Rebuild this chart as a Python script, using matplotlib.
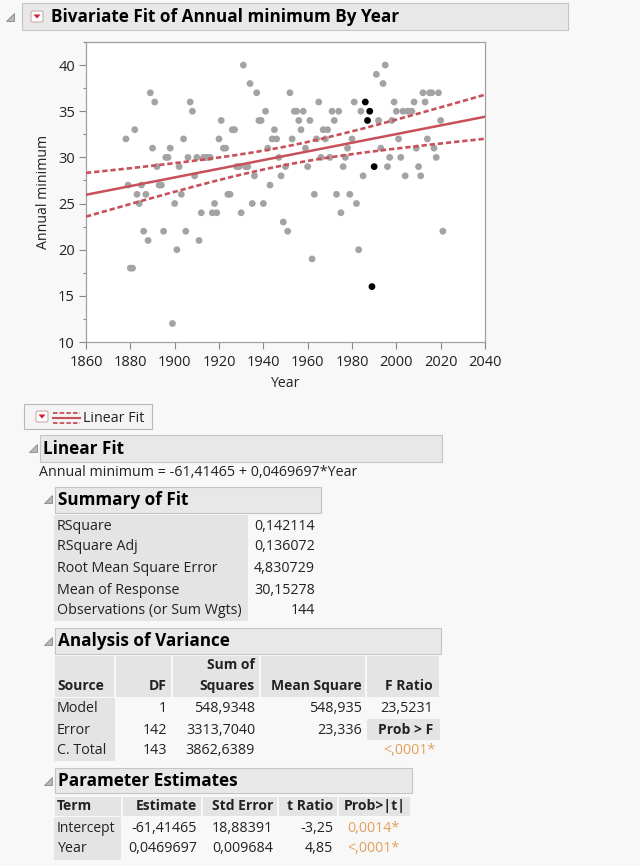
import matplotlib.patches as mpatches
import matplotlib.pyplot as plt
import numpy as np

plt.rcParams["font.family"] = ["Open Sans", "DejaVu Sans"]

# Data (one value per year)
years = list(range(1878, 2022))
annual_min = [
    32, 27, 18, 18, 33, 26, 25, 27, 22, 26,
    21, 37, 31, 36, 29, 27, 27, 22, 30, 30,
    31, 12, 25, 20, 29, 26, 32, 22, 30, 36,
    35, 28, 30, 21, 24, 30, 30, 30, 30, 24,
    25, 24, 32, 34, 31, 31, 26, 26, 33, 33,
    29, 29, 24, 40, 29, 29, 38, 25, 28, 37,
    34, 34, 25, 35, 31, 27, 32, 33, 32, 30,
    28, 23, 29, 22, 37, 32, 35, 35, 34, 33,
    35, 31, 29, 34, 19, 26, 32, 36, 30, 33,
    32, 33, 30, 35, 34, 26, 35, 24, 29, 30,
    31, 26, 32, 36, 25, 20, 35, 28, 36, 34,
    35, 16, 29, 39, 34, 31, 38, 40, 29, 30,
    34, 36, 35, 32, 30, 35, 28, 35, 35, 35,
    36, 31, 29, 28, 37, 36, 32, 37, 37, 31,
    30, 37, 34, 22,
]
selected_years = [1986, 1987, 1988, 1989, 1990]

F_CRIT = 3.06  # F(0.95; 2, 142), JMP fit confidence curves

equation = "Annual minimum = -61,41465 + 0,0469697*Year"
summary_labels = ["RSquare", "RSquare Adj", "Root Mean Square Error",
                  "Mean of Response", "Observations (or Sum Wgts)"]
summary_values = ["0,142114", "0,136072", "4,830729", "30,15278", "144"]

anova_sources = ["Model", "Error", "C. Total"]
anova_df = ["1", "142", "143"]
anova_ss = ["548,9348", "3313,7040", "3862,6389"]
anova_ms = ["548,935", "23,336", ""]
anova_f = ["23,5231", "", ""]
anova_prob = "<,0001*"

param_terms = ["Intercept", "Year"]
param_est = ["-61,41465", "0,0469697"]
param_se = ["18,88391", "0,009684"]
param_t = ["-3,25", "4,85"]
param_p = ["0,0014*", "<,0001*"]

W, H = 640, 866
RED = "#c8505a"
HDR = "#e8e8e8"
CELL = "#e4e4e4"
ORANGE = "#e3a05c"
TXT = "#222222"

fig = plt.figure(figsize=(W / 100, H / 100), dpi=100)
fig.patch.set_facecolor("#f8f8f8")

bg = fig.add_axes([0, 0, 1, 1])
bg.set_xlim(0, W)
bg.set_ylim(H, 0)
bg.axis("off")


def box(x0, y0, x1, y1, fc, ec="none", lw=0.8):
    bg.add_patch(mpatches.Rectangle((x0, y0), x1 - x0, y1 - y0,
                                    facecolor=fc, edgecolor=ec, linewidth=lw))


def tri(x, y):
    # JMP disclosure triangle
    bg.add_patch(mpatches.Polygon([(x, y + 8), (x + 8, y + 8), (x + 8, y)],
                                  closed=True, facecolor="#b8b8b8",
                                  edgecolor="#888888", linewidth=0.6))


def red_icon(x, y):
    bg.add_patch(mpatches.FancyBboxPatch((x, y), 12, 11,
                                         boxstyle="round,pad=0,rounding_size=2",
                                         facecolor="white", edgecolor="#c9a0a0",
                                         linewidth=0.7))
    bg.add_patch(mpatches.Polygon([(x + 2.5, y + 3.5), (x + 9.5, y + 3.5), (x + 6, y + 7.5)],
                                  closed=True, facecolor="#d0202a", edgecolor="none"))


def header(x0, y0, x1, y1, text, size=12.3):
    box(x0, y0, x1, y1, HDR, "#c4c4c4")
    bg.text(x0 + 3, (y0 + y1) / 2, text, fontsize=size, fontweight="bold",
            color="black", va="center", ha="left")


def t(x, y, s, ha="left", bold=False, color=TXT, size=None):
    if size is None:
        size = 10.0 if bold else 10.3
    bg.text(x, y, s, ha=ha, va="center", fontsize=size, color=color,
            fontweight="bold" if bold else "normal")


# title bar
tri(6, 13)
box(22, 3, 568, 30, HDR, "#c4c4c4")
red_icon(31, 11)
bg.text(51, 17, "Bivariate Fit of Annual minimum By Year", fontsize=12.3,
        fontweight="bold", va="center", ha="left")

# scatter plot
ax = fig.add_axes([86 / W, 1 - 342 / H, 399 / W, 300 / H])
x = np.array(years, dtype=float)
y = np.array(annual_min, dtype=float)
sel = np.isin(x, selected_years)
ax.scatter(x[~sel], y[~sel], s=24, color="#a3a3a3", edgecolors="none", zorder=2)
ax.scatter(x[sel], y[sel], s=24, color="black", edgecolors="none", zorder=3)

slope, intercept = np.polyfit(x, y, 1)
n = len(x)
resid = y - (intercept + slope * x)
s = np.sqrt(np.sum(resid ** 2) / (n - 2))
sxx = np.sum((x - x.mean()) ** 2)
xx = np.linspace(1860, 2040, 200)
fit = intercept + slope * xx
half = np.sqrt(2 * F_CRIT) * s * np.sqrt(1 / n + (xx - x.mean()) ** 2 / sxx)
ax.plot(xx, fit, color=RED, lw=1.8, zorder=4)
for band in (fit + half, fit - half):
    ax.plot(xx, band, color=RED, lw=1.9, dashes=(2.0, 1.1), zorder=4)

ax.set_xlim(1860, 2040)
ax.set_ylim(10, 42.5)
ax.set_xticks(range(1860, 2041, 20))
ax.set_yticks(range(10, 41, 5))
ax.set_yticks(np.arange(12.5, 43, 5), minor=True)
ax.tick_params(axis="both", which="major", length=5, width=0.8, color="#888888",
               labelsize=10.5, labelcolor="#222222", pad=3)
ax.tick_params(axis="x", which="major", pad=4)
ax.tick_params(axis="y", which="minor", length=2.5, width=0.8, color="#888888")
for sp in ax.spines.values():
    sp.set_color("#a0a0a0")
    sp.set_linewidth(0.9)
ax.set_facecolor("white")
ax.set_xlabel("Year", fontsize=10.2, color="#222222", labelpad=5)
ax.set_ylabel("Annual minimum", fontsize=10.2, color="#222222", labelpad=5)

# legend / outline for Linear Fit
box(24, 404, 152, 429, "#f4f4f4", "#b8b8b8")
red_icon(36, 411)
bg.plot([53, 80], [413, 413], color=RED, lw=1.3, dashes=(2.5, 1.2))
bg.plot([53, 80], [418, 418], color=RED, lw=1.5)
bg.plot([53, 80], [423, 423], color=RED, lw=1.3, dashes=(2.5, 1.2))
t(83, 418, "Linear Fit")

tri(29, 444)
header(40, 435, 442, 462, "Linear Fit")
t(39, 473, equation)

# Summary of Fit
tri(44, 495)
header(55, 487, 321, 513, "Summary of Fit")
box(54, 515, 248, 621, CELL)
rows_y = [526, 547, 568, 590, 611]
for yy, lab, val in zip(rows_y, summary_labels, summary_values):
    t(57, yy, lab)
    t(315, yy, val, ha="right")

# Analysis of Variance
tri(44, 637)
header(55, 628, 441, 654, "Analysis of Variance")
col_edges = [54, 115, 172, 260, 366, 440]
for a, b in zip(col_edges[:-1], col_edges[1:]):
    box(a + 0.8, 656, b - 0.8, 697, CELL)
box(54, 698, 115, 761, CELL)
box(367, 719, 440, 740, CELL)
t(57, 686, "Source", bold=True)
t(167, 686, "DF", ha="right", bold=True)
t(255, 665, "Sum of", ha="right", bold=True)
t(255, 686, "Squares", ha="right", bold=True)
t(362, 686, "Mean Square", ha="right", bold=True)
t(433, 686, "F Ratio", ha="right", bold=True)
for yy, src, df, ss, ms, fr in zip([708, 730, 751], anova_sources, anova_df,
                                    anova_ss, anova_ms, anova_f):
    t(57, yy, src)
    t(167, yy, df, ha="right")
    t(255, yy, ss, ha="right")
    t(362, yy, ms, ha="right")
    t(433, yy, fr, ha="right")
t(433, 730, "Prob > F", ha="right", bold=True)
t(435, 751, anova_prob, ha="right", color=ORANGE)

# Parameter Estimates
tri(44, 777)
header(55, 768, 412, 793, "Parameter Estimates")
pcols = [54, 122, 202, 278, 338, 411]
for a, b in zip(pcols[:-1], pcols[1:]):
    box(a + 0.8, 797, b - 0.8, 816, CELL)
box(54, 817, 121, 860, CELL)
t(57, 806, "Term", bold=True)
t(197, 806, "Estimate", ha="right", bold=True)
t(273, 806, "Std Error", ha="right", bold=True)
t(333, 806, "t Ratio", ha="right", bold=True)
t(406, 806, "Prob>|t|", ha="right", bold=True)
for yy, term, est, se, tr, p in zip([828, 849], param_terms, param_est,
                                     param_se, param_t, param_p):
    t(57, yy, term, size=10.0 if term == "Intercept" else None)
    t(197, yy, est, ha="right")
    t(273, yy, se, ha="right")
    t(333, yy, tr, ha="right")
    t(400, yy, p, ha="right", color=ORANGE)

fig.savefig("out.png", dpi=100, facecolor=fig.get_facecolor())
